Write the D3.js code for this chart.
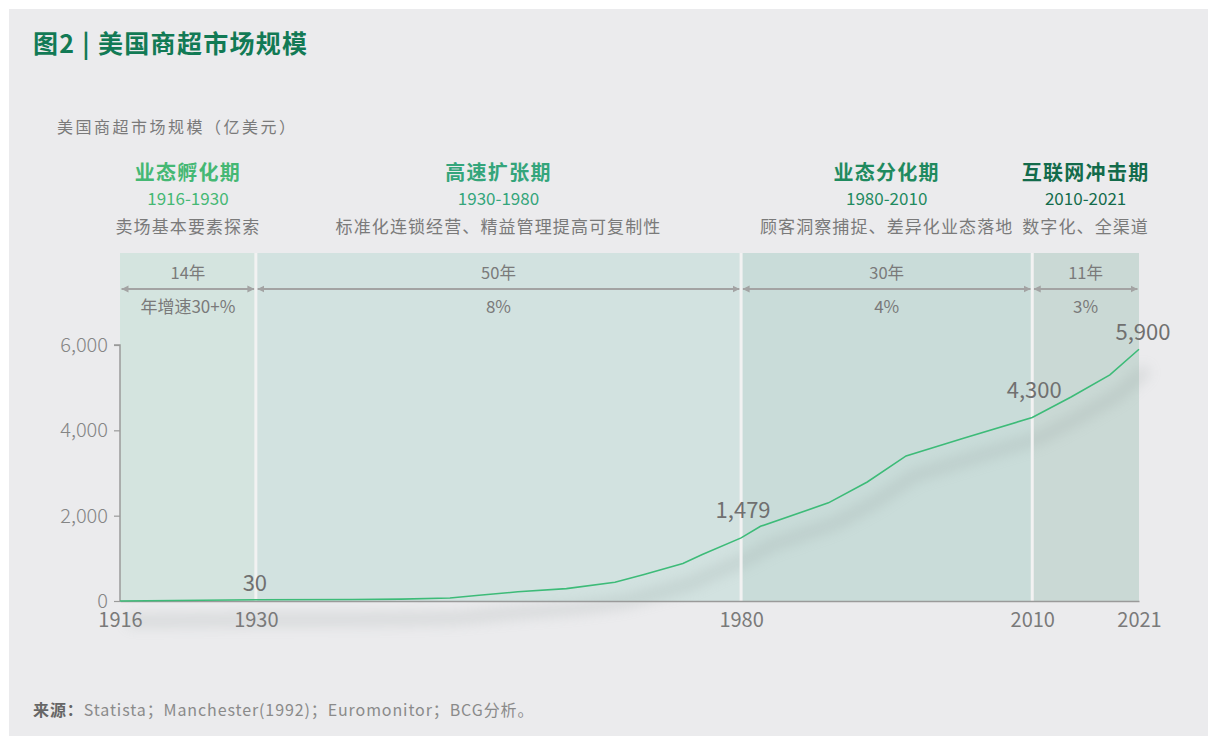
<!DOCTYPE html>
<html><head><meta charset="utf-8">
<script src="https://cdn.jsdelivr.net/npm/d3@7"></script>
<style>
html,body{margin:0;padding:0;background:#fff;}
text{font-family:"Noto Sans CJK SC","Noto Sans",sans-serif;}
</style></head>
<body><svg id="chart" width="1208" height="736"></svg>
<script>
// ---------- data ----------
const years = [1916, 1930, 1940, 1945, 1950, 1953, 1957, 1962, 1967, 1970, 1974, 1976, 1980, 1982, 1989, 1993, 1997, 2003, 2010, 2014, 2018, 2021];
const sizes = [0, 30, 35, 45, 70, 135, 215, 290, 440, 620, 880, 1090, 1479, 1750, 2300, 2790, 3400, 3820, 4300, 4780, 5300, 5900];
const labelYears = [1930, 1980, 2010, 2021];
const xTickYears = [1916, 1930, 1980, 2010, 2021];
const yTickValues = [0, 2000, 4000, 6000];
const phaseNames = ["业态孵化期", "高速扩张期", "业态分化期", "互联网冲击期"];
const phaseStarts = [1916, 1930, 1980, 2010];
const phaseEnds = [1930, 1980, 2010, 2021];
const phaseDescs = ["卖场基本要素探索", "标准化连锁经营、精益管理提高可复制性", "顾客洞察捕捉、差异化业态落地", "数字化、全渠道"];
const phaseDurations = ["14年", "50年", "30年", "11年"];
const phaseGrowth = ["年增速30+%", "8%", "4%", "3%"];
const titleText = "图2 | 美国商超市场规模";
const yAxisTitle = "美国商超市场规模（亿美元）";
const sourceLabel = "来源：";
const sourceText = "Statista；Manchester(1992)；Euromonitor；BCG分析。";

// ---------- styles ----------
const phaseTitleColors = ["#45b874", "#34a57b", "#1f8a5f", "#136b4b"];
const bandColors = ["#d4e4df", "#d2e2e0", "#c9dcd9", "#cad9d5"];

const svg = d3.select("#chart");
svg.append("rect").attr("x", 9).attr("y", 9).attr("width", 1199).attr("height", 727).attr("fill", "#ebebed");

const x = d3.scaleLinear().domain([1916, 2021]).range([120, 1139]);
const y = d3.scaleLinear().domain([0, 6000]).range([601, 345]);
const bandTop = 253;

// defs
const defs = svg.append("defs");
const f = defs.append("filter").attr("id", "blur").attr("x", "-20%").attr("y", "-50%").attr("width", "140%").attr("height", "200%");
f.append("feGaussianBlur").attr("stdDeviation", 7);
const mk = (id, orient) => {
  const m = defs.append("marker").attr("id", id).attr("viewBox", "0 0 10 10")
    .attr("refX", 10).attr("refY", 5).attr("markerWidth", 7).attr("markerHeight", 8)
    .attr("markerUnits", "userSpaceOnUse").attr("orient", orient);
  m.append("path").attr("d", "M0,0 L10,5 L0,10 Z").attr("fill", "#a3a3a3");
};
mk("arrEnd", "auto");
mk("arrStart", "auto-start-reverse");

// title
svg.append("text").attr("x", 33).attr("y", 53).attr("fill", "#127a55")
  .attr("font-size", 25).attr("font-weight", 700).attr("letter-spacing", 1.3).text(titleText);
svg.append("text").attr("x", 57).attr("y", 133).attr("fill", "#7a7a7a")
  .attr("font-size", 16).attr("letter-spacing", 2.5).text(yAxisTitle);

// phases
const phases = phaseNames.map((n, i) => ({ name: n, s: phaseStarts[i], e: phaseEnds[i], desc: phaseDescs[i], dur: phaseDurations[i], gr: phaseGrowth[i], i }));
const pg = svg.append("g");
pg.selectAll("rect.band").data(phases).join("rect").attr("class", "band")
  .attr("x", d => x(d.s)).attr("width", d => x(d.e) - x(d.s))
  .attr("y", bandTop).attr("height", y(0) - bandTop).attr("fill", d => bandColors[d.i]);

const cx = d => (x(d.s) + x(d.e)) / 2;
pg.selectAll("text.pname").data(phases).join("text").attr("class", "pname")
  .attr("x", cx).attr("y", 180).attr("text-anchor", "middle").attr("font-size", 20).attr("font-weight", 700)
  .attr("letter-spacing", 1.3).attr("fill", d => phaseTitleColors[d.i]).text(d => d.name);
pg.selectAll("text.prange").data(phases).join("text").attr("class", "prange")
  .attr("x", cx).attr("y", 205).attr("text-anchor", "middle").attr("font-size", 17)
  .attr("fill", d => phaseTitleColors[d.i]).text(d => d.s + "-" + d.e);
pg.selectAll("text.pdesc").data(phases).join("text").attr("class", "pdesc")
  .attr("x", cx).attr("y", 233).attr("text-anchor", "middle").attr("font-size", 17).attr("letter-spacing", 1.1)
  .attr("fill", "#7a7a7a").text(d => d.desc);
pg.selectAll("text.pdur").data(phases).join("text").attr("class", "pdur")
  .attr("x", cx).attr("y", 279).attr("text-anchor", "middle").attr("font-size", 16.5)
  .attr("fill", "#7a7a7a").text(d => d.dur);
pg.selectAll("text.pgr").data(phases).join("text").attr("class", "pgr")
  .attr("x", cx).attr("y", 313).attr("text-anchor", "middle").attr("font-size", 17)
  .attr("fill", "#7a7a7a").text(d => d.gr);
pg.selectAll("line.arrow").data(phases).join("line").attr("class", "arrow")
  .attr("x1", d => x(d.s) + 1.5).attr("x2", d => x(d.e) - 1.5).attr("y1", 289).attr("y2", 289)
  .attr("stroke", "#a3a3a3").attr("stroke-width", 2)
  .attr("marker-start", "url(#arrStart)").attr("marker-end", "url(#arrEnd)");

// line data
const data = years.map((yr, i) => ({ yr, v: sizes[i] }));
const line = d3.line().x(d => x(d.yr)).y(d => y(d.v));

// shadow
svg.append("path").datum(data).attr("d", line).attr("fill", "none")
  .attr("stroke", "#8f9a98").attr("stroke-width", 10).attr("opacity", 0.27)
  .attr("transform", "translate(8,20)").attr("filter", "url(#blur)");

// dividers
svg.selectAll("line.div").data(phaseStarts.slice(1)).join("line").attr("class", "div")
  .attr("x1", d => x(d)).attr("x2", d => x(d)).attr("y1", bandTop).attr("y2", y(0))
  .attr("stroke", "#f2f2f2").attr("stroke-width", 3);

// axes
const yAxis = svg.append("g").attr("transform", `translate(${x(1916)},0)`)
  .call(d3.axisLeft(y).tickValues(yTickValues).tickSize(6).tickPadding(6).tickFormat(d3.format(",")));
yAxis.select(".domain").attr("stroke", "#9a9a9a").attr("stroke-width", 1.5).attr("d", `M-6,${y(6000)}H0V${y(0)}`);
yAxis.selectAll(".tick line").attr("stroke", "#9a9a9a").attr("stroke-width", 1.2);
yAxis.selectAll(".tick text").attr("fill", "#858585").attr("font-size", 20).attr("font-family", '"Noto Sans CJK SC"').attr("font-weight", 300);

const xAxis = svg.append("g").attr("transform", `translate(0,${y(0)})`)
  .call(d3.axisBottom(x).tickValues(xTickYears).tickSize(0).tickPadding(12).tickFormat(d3.format("d")));
xAxis.select(".domain").attr("stroke", "#9a9a9a").attr("stroke-width", 1.5);
xAxis.selectAll(".tick text").attr("fill", "#7a7a7a").attr("font-size", 20).attr("font-family", '"Noto Sans CJK SC"');

// main line
svg.append("path").datum(data).attr("d", line).attr("fill", "none")
  .attr("stroke", "#3dbb78").attr("stroke-width", 1.6);

// value labels
const labData = data.filter(d => labelYears.includes(d.yr));
svg.selectAll("text.val").data(labData).join("text").attr("class", "val")
  .attr("x", d => x(d.yr) + (d.yr === 2021 ? 4 : d.yr === 1930 ? -1 : 2))
  .attr("y", d => y(d.v) - ((d.yr === 1930 || d.yr === 2021) ? 9 : 20))
  .attr("text-anchor", "middle").attr("font-size", 22).attr("fill", "#707070")
  .text(d => d3.format(",")(d.v));

// source
const src = svg.append("text").attr("x", 33).attr("y", 716).attr("font-size", 16).attr("letter-spacing", 0.9);
src.append("tspan").attr("font-weight", 700).attr("fill", "#666").text(sourceLabel);
src.append("tspan").attr("fill", "#8a8a8a").text(sourceText);
</script></body></html>
